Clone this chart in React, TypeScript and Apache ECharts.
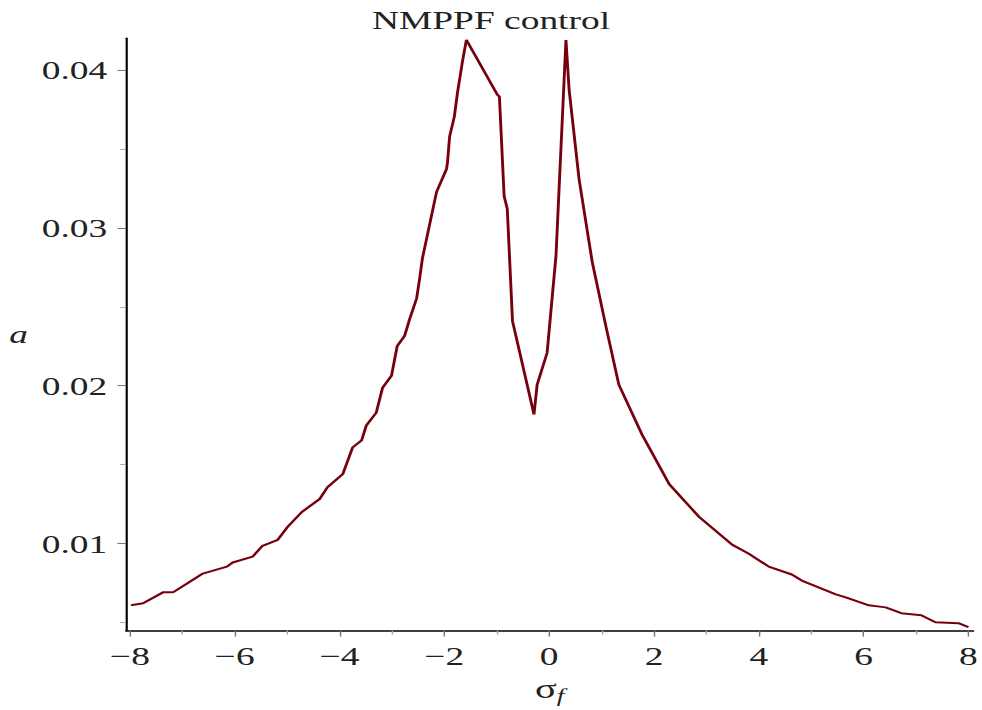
import React, { useEffect, useRef } from "react";
import * as echarts from "echarts";

// ---- data ----
const sigmaF = [
  -7.98, -7.75, -7.37, -7.18, -6.91, -6.61, -6.15, -6.04, -5.66, -5.47, -5.18, -4.99,
  -4.72, -4.38, -4.23, -3.94, -3.75, -3.58, -3.49, -3.30, -3.18, -3.01, -2.90, -2.76,
  -2.67, -2.53, -2.48, -2.42, -2.19, -2.15, -1.96, -1.94, -1.90, -1.81, -1.75, -1.68,
  -1.66, -1.58, -0.99, -0.95, -0.86, -0.80, -0.70, -0.29, -0.23, -0.04, 0.13, 0.32,
  0.38, 0.57, 0.82, 1.09, 1.33, 1.77, 2.29, 2.86, 3.49, 3.81, 4.19, 4.63, 4.82, 5.47,
  5.66, 6.10, 6.42, 6.72, 7.10, 7.37, 7.81, 8.0,
];
const aValues = [
  0.0061, 0.00623, 0.00692, 0.00692, 0.00748, 0.00811, 0.00855, 0.00881, 0.00918, 0.00987,
  0.01025, 0.01107, 0.01201, 0.01283, 0.01358, 0.0144, 0.0161, 0.01654, 0.01748, 0.0183,
  0.01987, 0.02063, 0.02252, 0.02315, 0.02415, 0.02553, 0.0266, 0.02805, 0.03164, 0.03226,
  0.03371, 0.03415, 0.03579, 0.03704, 0.03855, 0.04, 0.04044, 0.04189, 0.03843, 0.0383,
  0.03201, 0.0312, 0.02409, 0.01818, 0.02006, 0.02208, 0.02824, 0.04189, 0.03874, 0.03308,
  0.02786, 0.02365, 0.02006, 0.01692, 0.01377, 0.0117, 0.00994, 0.00937, 0.00855, 0.00805,
  0.00767, 0.00679, 0.0066, 0.0061, 0.00597, 0.0056, 0.00547, 0.00503, 0.00497, 0.00472,
];
const xMajorTicks = [-8, -6, -4, -2, 0, 2, 4, 6, 8];
const xMinorTicks = [-7, -5, -3, -1, 1, 3, 5, 7];
const yMajorTicks = [0.01, 0.02, 0.03, 0.04];
const yMinorTicks = [0.005, 0.015, 0.025, 0.035];
const titleText = "NMPPF control";

// the reference picture is horizontally stretched
const S = 1.44;
const FW = 982;
const FH = 710;

export default function App() {
  const ref = useRef<HTMLDivElement>(null);
  useEffect(() => {
    if (!ref.current) return;
    const chart = echarts.init(ref.current, undefined, { renderer: "svg" });
    const font = "Liberation Serif";
    const xMin = -8.076;
    const xMax = 8.095;
    const yMin = 0.0045;
    const yMax = 0.042;
    const grid = {
      left: 126 / S,
      right: (FW - 975) / S,
      top: 38.2,
      bottom: FH - 634.5,
    };
    const labelStyle = { fontFamily: font, fontSize: 26, color: "#222" };
    const fmtX = (v: number) => (v < 0 ? "\u2212" + Math.abs(v) : String(v));
    chart.setOption({
      animation: false,
      backgroundColor: "#fff",
      title: {
        text: titleText,
        left: "center",
        top: 2,
        textStyle: { fontFamily: font, fontSize: 26, fontWeight: "normal", color: "#222" },
      },
      grid,
      xAxis: [
        {
          type: "value",
          position: "bottom",
          min: xMin,
          max: xMax,
          axisLine: { show: true, onZero: false, lineStyle: { color: "#000", width: 1.5 } },
          axisTick: { show: true, customValues: xMajorTicks, length: 6, lineStyle: { color: "#777", width: 1 } },
          axisLabel: { show: true, customValues: xMajorTicks, margin: 13, formatter: fmtX, ...labelStyle },
          splitLine: { show: false },
          name: "{s|\u03c3}{f|f}",
          nameLocation: "middle",
          nameGap: 40,
          nameTextStyle: {
            rich: {
              s: { fontFamily: font, fontSize: 28, color: "#222" },
              f: { fontFamily: font, fontSize: 19, fontStyle: "italic", color: "#222", padding: [14, 0, 0, 0] },
            },
          },
        },
        {
          type: "value",
          position: "bottom",
          min: xMin,
          max: xMax,
          axisLine: { show: false, onZero: false },
          axisTick: { show: true, customValues: xMinorTicks, length: 4, lineStyle: { color: "#aaa", width: 1 } },
          axisLabel: { show: false },
          splitLine: { show: false },
        },
      ],
      yAxis: [
        {
          type: "value",
          position: "left",
          min: yMin,
          max: yMax,
          axisLine: { show: true, onZero: false, lineStyle: { color: "#000", width: 1.5 } },
          axisTick: { show: true, customValues: yMajorTicks, length: 6, lineStyle: { color: "#777", width: 1 } },
          axisLabel: {
            show: true,
            customValues: yMajorTicks,
            margin: 13,
            formatter: (v: number) => v.toFixed(2),
            ...labelStyle,
          },
          splitLine: { show: false },
          name: "a",
          nameLocation: "middle",
          nameRotate: 0,
          nameGap: 68,
          nameTextStyle: { fontFamily: font, fontSize: 26, fontStyle: "italic", color: "#222" },
        },
        {
          type: "value",
          position: "left",
          min: yMin,
          max: yMax,
          axisLine: { show: false, onZero: false },
          axisTick: { show: true, customValues: yMinorTicks, length: 4, lineStyle: { color: "#aaa", width: 1 } },
          axisLabel: { show: false },
          splitLine: { show: false },
        },
      ],
      series: [
        {
          type: "line",
          xAxisIndex: 0,
          yAxisIndex: 0,
          data: sigmaF.map((x, i) => [x, aValues[i]]),
          showSymbol: false,
          symbol: "none",
          lineStyle: { color: "#78000E", width: 2 },
          itemStyle: { color: "#78000E" },
        },
      ],
    });
    return () => chart.dispose();
  }, []);
  return (
    <div
      style={{
        position: "absolute",
        left: 0,
        top: 0,
        width: FW,
        height: FH,
        overflow: "hidden",
        background: "#fff",
      }}
    >
      <div
        ref={ref}
        style={{
          width: FW / S,
          height: FH,
          transform: `scaleX(${S})`,
          transformOrigin: "0 0",
        }}
      />
    </div>
  );
}
